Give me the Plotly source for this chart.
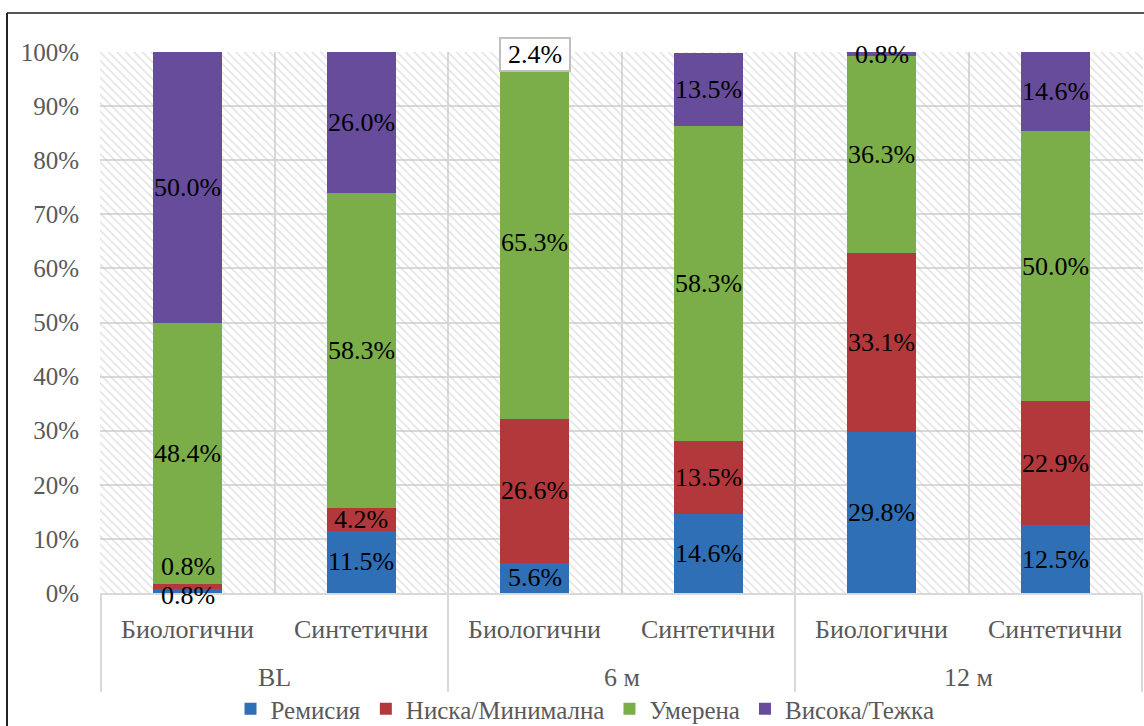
import plotly.graph_objects as go

# Stacked shares (%) per period / therapy type
periods = ["BL", "BL", "6 м", "6 м", "12 м", "12 м"]
therapies = ["Биологични", "Синтетични", "Биологични", "Синтетични", "Биологични", "Синтетични"]
series_names = ["Ремисия", "Ниска/Минимална", "Умерена", "Висока/Тежка"]
remission = [0.8, 11.5, 5.6, 14.6, 29.8, 12.5]
low = [0.8, 4.2, 26.6, 13.5, 33.1, 22.9]
moderate = [48.4, 58.3, 65.3, 58.3, 36.3, 50.0]
high = [50.0, 26.0, 2.4, 13.5, 0.8, 14.6]
y_ticks = [0, 10, 20, 30, 40, 50, 60, 70, 80, 90, 100]

series_values = [remission, low, moderate, high]
colors = ["#2E6FB5", "#B3383B", "#7BAE48", "#674C9B"]

FONT = "Liberation Serif"
GREY_TXT = "#595959"
GRID = "#d9d9d9"

W, H = 1144, 726
L, R, T, B = 100, 1, 52, 133
plot_w = W - L - R
plot_h = H - T - B


def px_to_paper_x(px):
    return (px - L) / plot_w


def px_to_paper_y(py):
    return (H - B - py) / plot_h


fig = go.Figure()

# hatched plot-area background (drawn on a hidden base axis, below the bars)
fig.add_trace(go.Bar(
    x=[0.5], y=[y_ticks[-1]], width=[1], xaxis="x", yaxis="y",
    marker=dict(color="rgba(0,0,0,0)", line=dict(width=0),
                pattern=dict(shape="\\", fgcolor="#c8c8c8",
                             bgcolor="rgba(0,0,0,0)", size=6, solidity=0.28)),
    hoverinfo="skip", showlegend=False,
))

for name, vals, col in zip(series_names, series_values, colors):
    fig.add_trace(go.Bar(
        x=[periods, therapies], y=vals, name=name, xaxis="x2", yaxis="y",
        marker=dict(color=col, line=dict(width=0)),
    ))

# value labels at the middle of each stacked segment
label_shift = {(0, 0): -5, (1, 0): 20}
boxed = {(3, 2)}
annotations = []
n = len(periods)
for j in range(n):
    base = 0.0
    for i, vals in enumerate(series_values):
        v = vals[j]
        mid = base + v / 2
        base += v
        if (i, j) in boxed:
            annotations.append(dict(
                x=j, y=base, xref="x2", yref="y", text=f"{v:.1f}%",
                showarrow=False, yshift=-2,
                font=dict(family=FONT, size=26, color="black"),
                bgcolor="white", bordercolor="#bfbfbf", borderwidth=2,
                width=66, height=29, borderpad=1,
            ))
            continue
        annotations.append(dict(
            x=j, y=mid, xref="x2", yref="y", text=f"{v:.1f}%",
            showarrow=False, yshift=label_shift.get((i, j), 0),
            font=dict(family=FONT, size=26, color="black"),
        ))

# two-level category labels under the axis
for j in range(n):
    annotations.append(dict(
        x=j, y=px_to_paper_y(629), xref="x2", yref="paper", text=therapies[j],
        showarrow=False, yanchor="middle",
        font=dict(family=FONT, size=26, color=GREY_TXT),
    ))
for j in range(0, n, 2):
    annotations.append(dict(
        x=j + 0.5, y=px_to_paper_y(677), xref="x2", yref="paper", text=periods[j],
        showarrow=False, yanchor="middle",
        font=dict(family=FONT, size=26, color=GREY_TXT),
    ))

shapes = []
# group dividers below the axis
for j in range(0, n + 1, 2):
    shapes.append(dict(
        type="line", xref="x2", yref="paper", x0=j - 0.5, x1=j - 0.5,
        y0=0, y1=px_to_paper_y(692), line=dict(color=GRID, width=2),
    ))

# outer chart frame (left and top edges)
shapes += [
    dict(type="line", xref="paper", yref="paper",
         x0=px_to_paper_x(7), x1=px_to_paper_x(W + 5),
         y0=px_to_paper_y(13), y1=px_to_paper_y(13),
         line=dict(color="#555555", width=2)),
    dict(type="line", xref="paper", yref="paper",
         x0=px_to_paper_x(7), x1=px_to_paper_x(7),
         y0=px_to_paper_y(13), y1=px_to_paper_y(H + 5),
         line=dict(color="#222222", width=2)),
]

fig.update_layout(
    width=W, height=H,
    margin=dict(l=L, r=R, t=T, b=B, autoexpand=False),
    paper_bgcolor="white", plot_bgcolor="white",
    barmode="stack", bargap=0.6,
    font=dict(family=FONT, size=25, color=GREY_TXT),
    xaxis=dict(range=[0, 1], visible=False, fixedrange=True),
    xaxis2=dict(
        type="multicategory", overlaying="x", anchor="y", side="bottom",
        tickson="boundaries", showgrid=True, gridcolor=GRID, gridwidth=2,
        showline=True, linecolor=GRID, linewidth=2, ticks="",
        showdividers=False, showticklabels=False,
    ),
    yaxis=dict(
        range=[0, 100], tickvals=y_ticks, ticktext=[f"{t}%" for t in y_ticks],
        showgrid=True, gridcolor=GRID, gridwidth=2, zeroline=False,
        showline=False, ticks="outside", ticklen=15, tickcolor="rgba(0,0,0,0)",
        tickfont=dict(family=FONT, size=25, color=GREY_TXT),
    ),
    legend=dict(orientation="h", traceorder="normal",
                x=px_to_paper_x(585), xanchor="center",
                y=px_to_paper_y(709), yanchor="middle",
                font=dict(family=FONT, size=25, color=GREY_TXT),
                itemwidth=30, tracegroupgap=0, bgcolor="rgba(0,0,0,0)"),
    annotations=annotations,
    shapes=shapes,
)

fig.write_html("out.html")
